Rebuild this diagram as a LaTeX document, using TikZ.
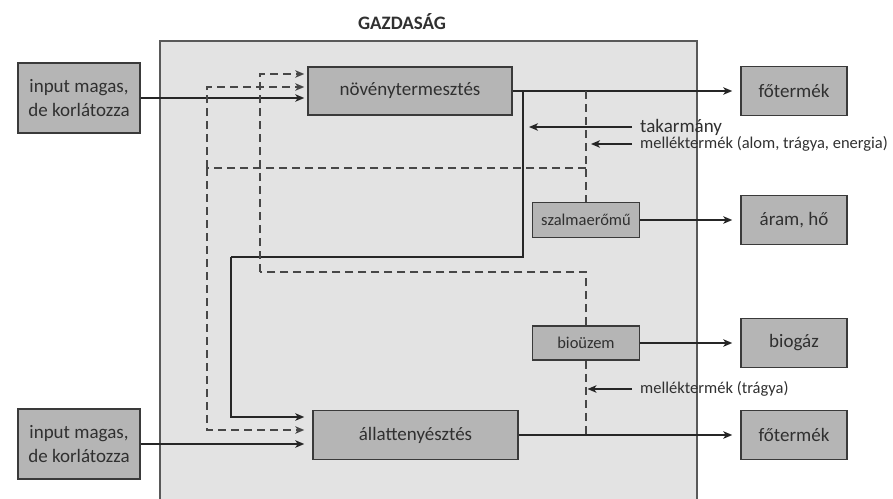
\documentclass[tikz,border=0pt]{standalone}
\usepackage{fontspec}
\setmainfont{Carlito}
\usetikzlibrary{arrows.meta}

\definecolor{keret}{HTML}{3A3A3A}
\definecolor{betu}{HTML}{303030}

\tikzset{
  doboz/.style={draw=keret, line width=1.5pt, fill=black!29, text=betu,
    minimum width=106pt, minimum height=49pt, inner sep=0pt, align=center,
    font=\fontsize{19}{24}\selectfont},
  kisdoboz/.style={doboz, minimum width=107pt, minimum height=35pt,
    font=\fontsize{16.5}{20}\selectfont},
  folyam/.style={-{Stealth[length=9pt,width=7.5pt,inset=2.5pt]}, line width=1.5pt, draw=black!85},
  mellek/.style={folyam, dash pattern=on 8pt off 5pt, draw=black!72},
  szaggatott/.style={line width=1.5pt, dash pattern=on 8pt off 5pt, draw=black!72},
  cimke/.style={anchor=west, inner sep=0pt, text=betu}
}

\begin{document}
\begin{tikzpicture}[x=1pt,y=-1pt]
  \useasboundingbox (0,0) rectangle (893,498);

  % Gazdasag
  \draw[draw=black!65, line width=1.5pt, fill=black!11] (160,41) rectangle (697,510);
  \node[text=betu, font=\fontsize{19}{24}\selectfont\bfseries] (cim) at (402,22) {GAZDASÁG};

  % Dobozok
  \node[doboz, minimum width=122pt, minimum height=70pt] (inputFel) at (79,98) {input magas,\\de korlátozza};
  \node[doboz, minimum width=122pt, minimum height=70pt] (inputLe) at (79,444) {input magas,\\de korlátozza};
  \node[doboz, minimum width=204pt, minimum height=48pt] (noveny) at (410,91) {növénytermesztés};
  \node[doboz, minimum width=205pt] (allat) at (415.5,435) {állattenyésztés};
  \node[kisdoboz] (szalma) at (586,220) {szalmaerőmű};
  \node[kisdoboz, minimum height=34pt] (bio) at (586,343) {bioüzem};
  \node[doboz] (fo1) at (794,91) {főtermék};
  \node[doboz] (aram) at (794,220) {áram, hő};
  \node[doboz] (biogaz) at (794,343) {biogáz};
  \node[doboz] (fo2) at (794,435) {főtermék};

  % Cimkek
  \node[cimke, font=\fontsize{19}{24}\selectfont] (takCimke) at (640,127) {takarmány};
  \node[cimke, font=\fontsize{16.5}{20}\selectfont] (mel1Cimke) at (640,144) {melléktermék (alom, trágya, energia)};
  \node[cimke, font=\fontsize{16.5}{20}\selectfont] (mel2Cimke) at (640,389) {melléktermék (trágya)};

  % Csomopontok
  \coordinate (elagT) at (523,91);
  \coordinate (mellekFel) at (586,168);
  \coordinate (mellekLe) at (586,272);
  \coordinate (takVeg) at (529,127);
  \coordinate (mel1Veg) at (591,144);
  \coordinate (mel2Veg) at (587.5,389);
  \coordinate (novBe1) at ([xshift=-3pt,yshift=17pt]noveny.west);
  \coordinate (novBe2) at ([xshift=-3pt,yshift=4pt]noveny.west);
  \coordinate (allBe1) at ([xshift=-8pt,yshift=18pt]allat.west);
  \coordinate (allBe2) at ([xshift=-8pt,yshift=5pt]allat.west);

  % Foaramlasok
  \draw[folyam, shorten >=8pt] (noveny.east) -- (noveny.east -| fo1.west);
  \draw[folyam, shorten >=8pt] (allat.east) -- (allat.east -| fo2.west);
  \draw[folyam, shorten >=8pt] (szalma.east) -- (szalma.east -| aram.west);
  \draw[folyam, shorten >=8pt] (bio.east) -- (bio.east -| biogaz.west);

  % Inputok
  \draw[folyam, shorten >=3pt] (inputFel.east) -- (inputFel.east -| noveny.west);
  \draw[folyam, shorten >=8pt] (inputLe.east) -- (inputLe.east -| allat.west);

  % Takarmany
  \draw[line width=1.5pt, draw=black!85] (elagT) -- (523,257) -- (231,257);
  \draw[folyam] (231,257) |- (allBe1);

  % Melléktermekek
  \draw[szaggatott] (szalma.north |- noveny.east) -- (szalma.north);
  \draw[szaggatott] (mellekFel) -- (207,168);
  \draw[mellek] (207,168) |- (novBe2);
  \draw[mellek] (207,168) |- (allBe2);
  \draw[szaggatott] (bio.north) -- (mellekLe) -- (260,272);
  \draw[mellek] (260,272) |- (novBe1);
  \draw[szaggatott] (bio.south) -- (bio.south |- allat.east);

  % Cimke nyilak
  \draw[folyam] ([xshift=-8pt]takCimke.west) -- (takVeg);
  \draw[folyam] ([xshift=-8pt]mel1Cimke.west) -- (mel1Veg);
  \draw[folyam] ([xshift=-8pt]mel2Cimke.west) -- (mel2Veg);
\end{tikzpicture}
\end{document}
